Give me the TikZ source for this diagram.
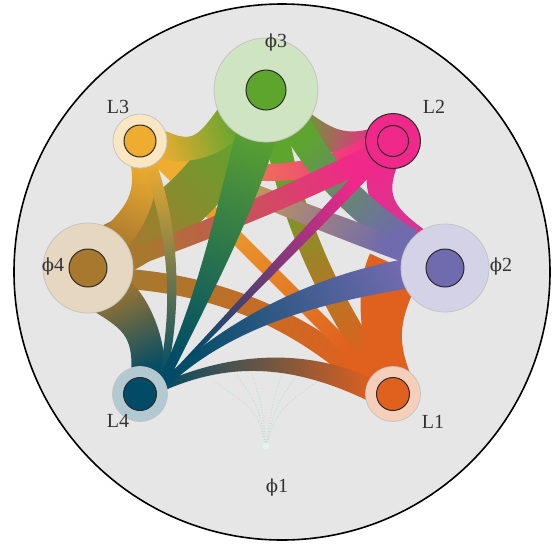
\documentclass[tikz,border=0pt]{standalone}
\usepackage{fontspec}
\setmainfont{Liberation Serif}
\newfontfamily\phifont{DejaVu Serif}
\usetikzlibrary{calc}
\pgfdeclarelayer{bgl}
\pgfdeclarelayer{ribl}
\pgfsetlayers{bgl,ribl,main}
\definecolor{bg}{HTML}{E6E6E6}
\definecolor{cLa}{HTML}{E0601E}
\definecolor{cPb}{HTML}{706AAE}
\definecolor{cLb}{HTML}{F0288A}
\definecolor{cPc}{HTML}{5EA52E}
\definecolor{cLc}{HTML}{EEAC30}
\definecolor{cPd}{HTML}{A8782E}
\definecolor{cLd}{HTML}{004C66}
\definecolor{cPa}{HTML}{E2F5F0}
\definecolor{txt}{HTML}{333333}
\definecolor{dotc}{HTML}{B4DCD4}
\definecolor{haloline}{HTML}{C4C4C4}
\definecolor{coreline}{HTML}{2A2A2A}
\newcommand\rib[7]{%
  \path let \p1=#1, \p2=#2, \p3=#3 in \pgfextra{%
    \pgfmathsetmacro\rbda{atan2((\y3)-(\y1),(\x3)-(\x1))}%
    \pgfmathsetmacro\rbdb{atan2((\y2)-(\y3),(\x2)-(\x3))}%
    \pgfmathsetmacro\rbnax{(#4)/2*cos(\rbda+90)}%
    \pgfmathsetmacro\rbnay{(#4)/2*sin(\rbda+90)}%
    \pgfmathsetmacro\rbnbx{(#5)/2*cos(\rbdb+90)}%
    \pgfmathsetmacro\rbnby{(#5)/2*sin(\rbdb+90)}%
    \pgfmathsetmacro\rbkax{((\x3)-(\x1))*2/3}%
    \pgfmathsetmacro\rbkay{((\y3)-(\y1))*2/3}%
    \pgfmathsetmacro\rbkbx{((\x3)-(\x2))*2/3}%
    \pgfmathsetmacro\rbkby{((\y3)-(\y2))*2/3}%
    \pgfmathsetmacro\rbALx{(\x1)+(\rbnax)}\pgfmathsetmacro\rbALy{(\y1)+(\rbnay)}%
    \pgfmathsetmacro\rbARx{(\x1)-(\rbnax)}\pgfmathsetmacro\rbARy{(\y1)-(\rbnay)}%
    \pgfmathsetmacro\rbBLx{(\x2)+(\rbnbx)}\pgfmathsetmacro\rbBLy{(\y2)+(\rbnby)}%
    \pgfmathsetmacro\rbBRx{(\x2)-(\rbnbx)}\pgfmathsetmacro\rbBRy{(\y2)-(\rbnby)}%
    \pgfmathsetmacro\rbCax{\rbALx+\rbkax}\pgfmathsetmacro\rbCay{\rbALy+\rbkay}%
    \pgfmathsetmacro\rbCbx{\rbBLx+\rbkbx}\pgfmathsetmacro\rbCby{\rbBLy+\rbkby}%
    \pgfmathsetmacro\rbCcx{\rbBRx+\rbkbx}\pgfmathsetmacro\rbCcy{\rbBRy+\rbkby}%
    \pgfmathsetmacro\rbCdx{\rbARx+\rbkax}\pgfmathsetmacro\rbCdy{\rbARy+\rbkay}%
    \pgfmathsetmacro\rbang{atan2((\y2)-(\y1),(\x2)-(\x1))-90}%
    \xdef\ribpath{(\rbALx pt,\rbALy pt) .. controls (\rbCax pt,\rbCay pt) and (\rbCbx pt,\rbCby pt) .. (\rbBLx pt,\rbBLy pt) -- (\rbBRx pt,\rbBRy pt) .. controls (\rbCcx pt,\rbCcy pt) and (\rbCdx pt,\rbCdy pt) .. (\rbARx pt,\rbARy pt) -- cycle}%
    \xdef\ribang{\rbang}%
  };
  \edef\ribcmd{\noexpand\shade[bottom color=#6,top color=#7,shading angle=\ribang]\ribpath;}%
  \ribcmd
}
\tikzset{
  halo/.style={circle, inner sep=0pt, draw=haloline, line width=0.8pt},
  core/.style={circle, inner sep=0pt, draw=coreline, line width=1pt},
  lbl/.style={text=txt, font=\fontsize{20}{22}\selectfont, inner sep=0pt},
  dotl/.style={draw=dotc, dash pattern=on 0.9pt off 1.8pt, line width=0.7pt},
}
\newcommand\ph[1]{{\phifont\fontsize{18}{20}\selectfont ϕ}#1}
\begin{document}
\begin{tikzpicture}[x=1pt,y=-1pt]
\useasboundingbox (0,0) rectangle (558,547);
\begin{pgfonlayer}{bgl}
\fill[white] (0,0) rectangle (558,547);
\draw[line width=1.6pt, fill=bg] (282,272) circle[radius=268];
\end{pgfonlayer}
% nodes
\node[halo, minimum size=104pt, fill=cPc!30!white] (P3h) at (266,90) {};
\node[core, minimum size=40pt, fill=cPc] (P3) at (266,90) {};
\node[halo, minimum size=88pt, fill=cPb!30!white] (P2h) at (445,268) {};
\node[core, minimum size=38pt, fill=cPb] (P2) at (445,268) {};
\node[halo, minimum size=90pt, fill=cPd!30!white] (P4h) at (88,268) {};
\node[core, minimum size=38pt, fill=cPd] (P4) at (88,268) {};
\node[core, minimum size=55pt, fill=cLb] (L2h) at (393,141) {};
\node[core, minimum size=31pt, fill=cLb] (L2) at (393,141) {};
\node[halo, minimum size=54pt, fill=cLc!30!white] (L3h) at (140,141) {};
\node[core, minimum size=32pt, fill=cLc] (L3) at (140,141) {};
\node[halo, minimum size=55pt, fill=cLd!30!white] (L4h) at (140,394) {};
\node[core, minimum size=33pt, fill=cLd] (L4) at (140,394) {};
\node[halo, minimum size=55pt, fill=cLa!30!white] (L1h) at (393,394) {};
\node[core, minimum size=33pt, fill=cLa] (L1) at (393,394) {};
\node[circle, inner sep=0pt, minimum size=7pt, fill=cPa] (P1) at (266,446) {};
% labels
\node[lbl] (tP3) at (276,43) {\ph{3}};
\node[lbl] (tL2) at (434,107) {L2};
\node[lbl] (tP2) at (501,267) {\ph{2}};
\node[lbl] (tL1) at (433,422) {L1};
\node[lbl] (tP1) at (277,488) {\ph{1}};
\node[lbl] (tL4) at (118,421) {L4};
\node[lbl] (tP4) at (53,267) {\ph{4}};
\node[lbl] (tL3) at (118,107) {L3};
% faint links from phi1
\coordinate (d1) at (213,381);
\coordinate (d2) at (236,374);
\coordinate (d3) at (251,371);
\coordinate (d4) at (283,370);
\coordinate (d5) at (300,371);
\coordinate (d6) at (323,377);
\begin{pgfonlayer}{ribl}
\draw[dotl] (P1) .. controls (256,410) .. (d1);
\draw[dotl] (P1) .. controls (258,405) .. (d2);
\draw[dotl] (P1) .. controls (262,405) .. (d3);
\draw[dotl] (P1) .. controls (272,405) .. (d4);
\draw[dotl] (P1) .. controls (276,405) .. (d5);
\draw[dotl] (P1) .. controls (278,410) .. (d6);
% ribbons, back to front
\rib{($(L2)+(-18,-2)$)}{($(P3)+(35,35)$)}{(335,150)}{22}{30}{cLb}{cPc}
\rib{($(L2)+(-8,15)$)}{($(P2)+(-28,-25)$)}{(365,205)}{30}{30}{cLb}{cLb!75!cPb}
\rib{($(P4)+(25,10)$)}{($(L1)+(-22,-10)$)}{(264,285)}{20}{22}{cPd}{cLa}
\rib{($(L3)+(12,12)$)}{($(L1)+(-14,-14)$)}{(266,267)}{14}{14}{cLc}{cLa}
\rib{($(P3)+(10,40)$)}{($(L1)+(-12,-18)$)}{(297,253)}{24}{22}{cPc}{cLa}
\rib{($(L1)+(0,-15)$)}{($(P2)+(-50,-3)$)}{(370,320)}{36}{55}{cLa}{cLa}
\rib{($(L2)+(-20,5)$)}{($(L3)+(20,5)$)}{(266,199)}{20}{18}{cLb}{cLc}
\rib{($(P3)+(30,35)$)}{($(P2)+(-35,-25)$)}{(338,199)}{30}{28}{cPc}{cPb}
\rib{($(P2)+(-35,-15)$)}{($(L3)+(18,14)$)}{(297,212)}{22}{18}{cPb}{cLc}
\rib{($(P3)+(-20,28)$)}{($(P4)+(26,-18)$)}{(204,206)}{52}{54}{cPc}{cPd}
\rib{($(L3)+(3,18)$)}{($(P4)+(22,-25)$)}{(152,205)}{26}{30}{cLc}{cPd}
\rib{($(L3)+(18,2)$)}{($(P3)+(-35,30)$)}{(200,162)}{28}{34}{cLc}{cPc}
\rib{($(L2)+(-15,12)$)}{($(P4)+(30,-5)$)}{(250,216)}{22}{18}{cLb}{cPd}
\rib{($(P4)+(20,25)$)}{($(L4)+(8,-15)$)}{(152,320)}{46}{34}{cPd}{cLd}
\rib{($(L3)+(8,18)$)}{($(L4)+(22,-14)$)}{(187,265)}{13}{8}{cLc}{cLd}
\rib{($(L4)+(20,-6)$)}{($(L1)+(-22,-4)$)}{(266,340)}{8}{22}{cLd}{cLa}
\rib{($(P3)+(0,10)$)}{($(L4)+(20,-6)$)}{(225,255)}{42}{9}{cPc}{cLd}
\rib{($(P2)+(-15,2)$)}{($(L4)+(20,-6)$)}{(255,295)}{30}{8}{cPb}{cLd}
\rib{($(L2)+(-10,12)$)}{($(L4)+(20,-6)$)}{(271,271)}{13}{4}{cLb}{cLd}
\end{pgfonlayer}
\end{tikzpicture}
\end{document}
